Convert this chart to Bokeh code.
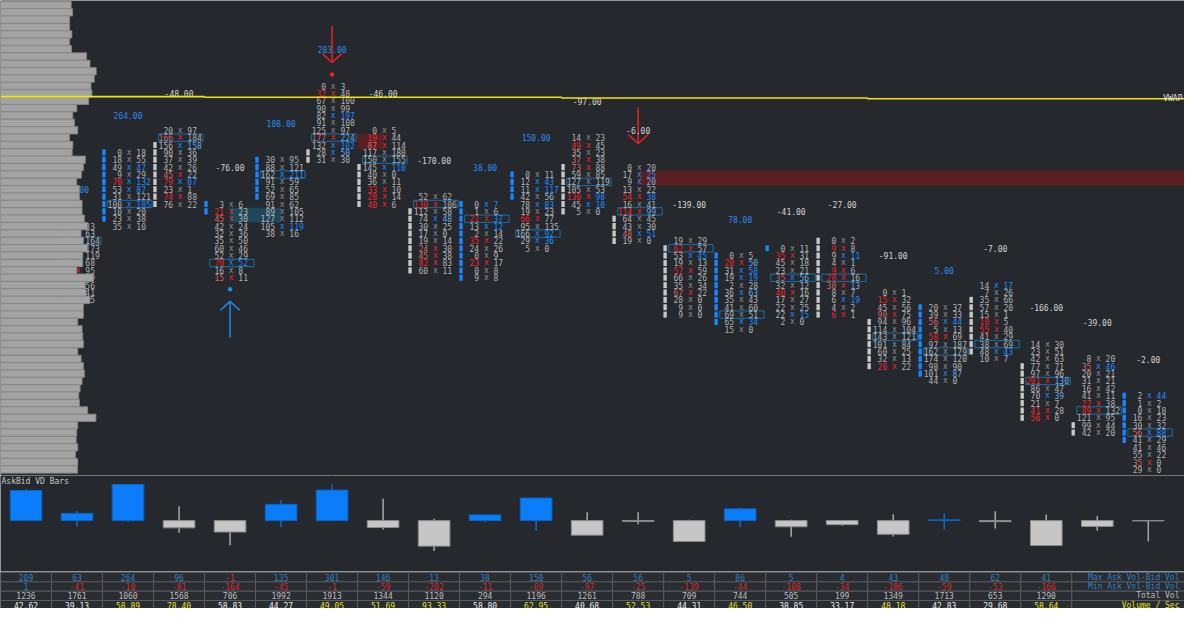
from bokeh.plotting import figure
from bokeh.models import Range1d, ColumnDataSource, Label
from bokeh.layouts import column
from bokeh.embed import file_html
from bokeh.resources import INLINE
from bokeh.core.properties import value

BG = "#25282d"
MONO = "DejaVu Sans Mono"

# ---------------- footprint data (price levels in ticks, rows listed from high to low) ----------------
fp_cols = list(range(1, 23))
fp_top = [41, 51, 54, 44, 50, 60, 54, 45, 44, 48, 53, 49, 39, 37, 38, 39, 32, 30, 33, 25, 23, 18]
fp_bid = [
    [12, 40, 150, 115, 120, 85, 112, 70, 44, 40, 30],
    [0, 18, 49, 9, 70, 53, 31, 100, 10, 23, 35],
    [20, 166, 156, 90, 37, 42, 45, 79, 23, 74, 76],
    [3, 21, 45, 42, 32, 35, 60, 52, 70, 16, 15],
    [30, 88, 162, 91, 52, 69, 91, 89, 127, 105, 38],
    [0, 32, 67, 90, 82, 91, 125, 177, 132, 28, 31],
    [0, 19, 87, 117, 150, 145, 40, 36, 33, 28, 40],
    [52, 130, 112, 74, 30, 17, 19, 24, 45, 82, 60],
    [0, 1, 21, 13, 2, 35, 24, 0, 23, 0, 9],
    [0, 12, 11, 42, 78, 19, 66, 95, 166, 29, 5],
    [14, 49, 35, 37, 73, 59, 127, 105, 130, 45, 5],
    [0, 17, 9, 13, 54, 16, 114, 64, 43, 48, 19],
    [19, 62, 53, 19, 57, 66, 35, 67, 28, 9, 9],
    [0, 20, 31, 19, 2, 36, 35, 41, 69, 65, 15],
    [0, 35, 45, 23, 35, 32, 40, 17, 22, 22, 2],
    [0, 9, 9, 4, 9, 28, 30, 8, 6, 4, 6],
    [0, 15, 45, 90, 94, 114, 143, 101, 60, 32, 26],
    [20, 39, 56, 5, 58, 97, 162, 174, 98, 101, 44],
    [14, 7, 35, 57, 15, 10, 55, 41, 38, 48, 10],
    [14, 23, 42, 77, 97, 201, 86, 70, 21, 41, 56],
    [8, 35, 20, 31, 16, 41, 27, 89, 121, 99, 42],
    [2, 1, 0, 16, 30, 56, 41, 41, 55, 35, 29],
]
fp_ask = [
    [33, 63, 164, 173, 119, 68, 95, 39, 56, 41, 15],
    [18, 55, 47, 29, 132, 87, 121, 105, 20, 38, 10],
    [97, 184, 158, 36, 39, 26, 22, 87, 1, 88, 22],
    [6, 23, 30, 24, 36, 50, 46, 29, 52, 8, 11],
    [95, 121, 211, 59, 65, 85, 62, 105, 112, 119, 16],
    [3, 48, 100, 99, 197, 108, 97, 224, 102, 50, 30],
    [5, 44, 114, 180, 155, 110, 0, 11, 10, 14, 6],
    [62, 106, 58, 48, 25, 0, 14, 30, 38, 83, 11],
    [7, 6, 37, 12, 14, 22, 26, 9, 17, 8, 8],
    [11, 43, 117, 56, 83, 23, 77, 135, 92, 36, 0],
    [23, 45, 23, 38, 88, 85, 119, 53, 98, 10, 0],
    [20, 25, 20, 22, 38, 41, 99, 45, 30, 51, 0],
    [29, 57, 45, 13, 59, 26, 34, 22, 0, 0, 0],
    [5, 50, 58, 19, 28, 63, 43, 60, 51, 34, 0],
    [11, 31, 18, 21, 56, 12, 16, 27, 25, 15, 0],
    [2, 8, 11, 1, 6, 16, 13, 7, 19, 2, 1],
    [1, 32, 56, 75, 96, 104, 121, 84, 25, 13, 22],
    [37, 33, 44, 13, 69, 187, 179, 120, 90, 87, 0],
    [17, 26, 66, 20, 1, 5, 40, 29, 69, 43, 7],
    [30, 51, 63, 71, 96, 130, 47, 39, 7, 28, 0],
    [20, 46, 21, 21, 42, 11, 38, 132, 95, 44, 20],
    [44, 2, 18, 23, 32, 88, 29, 46, 22, 0, 0],
]

# candle open / close (price levels) for bars 2..22
body_cols = list(range(2, 23))
body_open = [42, 52, 43, 45, 51, 49, 43, 34, 45, 49, 42, 38, 28, 38, 39, 28, 21, 31, 22, 14, 12]
body_close = [51, 44, 44, 50, 50, 44, 35, 44, 48, 43, 39, 29, 37, 38, 29, 22, 30, 24, 15, 13, 18]

# signals
sig_cols = [6, 12, 4]
sig_side = ["sell", "sell", "buy"]
sig_dot = [True, False, True]

# imbalance zones (bar index from/to, price levels)
zone_from = [4.0, 6.5, 12.0]
zone_to = [5.0, 7.0, 22.71]
zone_hi = [43, 53, 48]
zone_lo = [42, 52, 47]
zone_kind = ["closed", "open", "open"]

# VWAP per bar
vwap = [58.57, 58.57, 58.57, 58.57, 58.48, 58.48, 58.48, 58.48, 58.48, 58.48, 58.48,
        58.37, 58.37, 58.37, 58.37, 58.37, 58.37, 58.27, 58.27, 58.27, 58.27, 58.27, 58.27]

# left volume profile (from price level 71 downwards)
profile_top_level = 71
profile_vol = [717, 730, 700, 700, 723, 700, 720, 873, 907, 970, 950, 917, 927, 893, 773, 733,
               750, 783, 700, 733, 727, 860, 840, 820, 773, 800, 800, 827, 827, 850, 883, 817,
               840, 883, 833, 833, 773, 940, 860, 867, 907, 840, 840, 783, 827, 833, 840, 783,
               817, 840, 850, 827, 807, 793, 800, 883, 967, 783, 773, 767, 783, 760, 783, 780]

# AskBid VD bars
vd_delta = [200, 48, 264, -48, -76, 108, 203, -46, -170, 38, 150, -97, -6, -139, 78, -41, -27,
            -91, 5, -7, -166, -39, -2]
max_ask_bid = [209, 63, 264, 96, -1, 135, 301, 146, 13, 38, 150, 56, 56, 5, 86, 5, 4, 43, 48, 62, 41]
min_ask_bid = [1, -41, -10, -81, -164, -45, -1, -59, -202, -11, -69, -97, -25, -139, -44, -108,
               -34, -106, -59, -53, -166]
vd_max_extra = [31, 0]
vd_min_extra = [-68, -139]
total_vol = [1236, 1761, 1060, 1568, 706, 1992, 1913, 1344, 1120, 294, 1196, 1261, 788, 709, 744,
             505, 199, 1349, 1713, 653, 1290]
vol_per_sec = [42.62, 39.13, 58.89, 78.40, 58.83, 44.27, 49.05, 51.69, 93.33, 58.80, 62.95, 40.68,
               52.53, 44.31, 46.50, 38.85, 33.17, 48.18, 42.83, 29.68, 58.64]
row_labels = ["Max Ask Vol-Bid Vol", "Min Ask Vol-Bid Vol", "Total Vol", "Volume / Sec"]

# ---------------- styling ----------------
GRAY = "#b2b2b2"
XGRAY = "#8f8f8f"
RED, RED_L = "#f0262b", "#d86868"
BLUE, BLUE_L = "#1f8bff", "#68aae6"
LBL_GRAY = "#d4d4d4"
LBL_BLUE = "#2b8cf2"
FS = value("8px")

W = 1184
H_MAIN, H_VD, H_TBL = 475, 96, 37
xr = Range1d(-0.5, 22.71)


def mkfig(h, yr):
    p = figure(width=W, height=h, x_range=xr, y_range=yr, output_backend="svg",
               toolbar_location=None, tools="", x_axis_location=None, y_axis_location=None,
               min_border=0, min_border_left=0, min_border_right=0, min_border_top=0,
               min_border_bottom=0, background_fill_color=BG, border_fill_color=BG,
               outline_line_color=None)
    p.xgrid.visible = False
    p.ygrid.visible = False
    for g in p.grid:
        g.grid_line_color = None
    return p


main = mkfig(H_MAIN, Range1d(7.18, 71.6))

# zones
zcol = {"closed": "#1e4759", "open": "#5a1f23"}
main.quad(left=zone_from, right=zone_to, bottom=[v - 0.5 for v in zone_lo],
          top=[v + 0.5 for v in zone_hi], fill_color=[zcol[k] for k in zone_kind],
          line_color=None)

bid_d = dict(x=[], y=[], t=[], c=[])
x_d = dict(x=[], y=[], t=[], c=[])
ask_d = dict(x=[], y=[], t=[], c=[])
poc_x, poc_y = [], []
lab_d = dict(x=[], y=[], t=[], c=[])

for ci, col in enumerate(fp_cols):
    bids, asks = fp_bid[ci], fp_ask[ci]
    n = len(bids)
    tot = [b + a for b, a in zip(bids, asks)]
    ip = tot.index(max(tot))
    poc_x.append(col)
    poc_y.append(fp_top[ci] - ip)
    for i in range(n):
        lvl = fp_top[ci] - i
        rb = bids[i] / asks[i - 1] if (i > 0 and asks[i - 1] > 0) else 0
        ra = asks[i] / bids[i + 1] if (i < n - 1 and bids[i + 1] > 0) else 0
        cb = (RED if rb >= 2 else RED_L) if rb >= 1.5 else GRAY
        ca = (BLUE if ra >= 2 else BLUE_L) if ra >= 1.5 else GRAY
        if ra >= 1.5 and ra >= rb:
            cx = BLUE
        elif rb >= 1.5:
            cx = RED
        else:
            cx = XGRAY
        for d, t, c in ((bid_d, str(bids[i]), cb), (x_d, "x", cx), (ask_d, str(asks[i]), ca)):
            d["x"].append(col); d["y"].append(lvl); d["t"].append(t); d["c"].append(c)
    delta = sum(asks) - sum(bids)
    lab_d["x"].append(col)
    lab_d["y"].append(fp_top[ci] + 4.96)
    lab_d["t"].append(f"{delta:.2f}")
    lab_d["c"].append(LBL_BLUE if delta > 0 else LBL_GRAY)

# POC boxes
main.rect(x=[v + 0.035 for v in poc_x], y=poc_y, width=0.87, height=1.0,
          fill_color=None, line_color="#1d6fa6", line_width=1)

# candle bodies
bx, by, bc = [], [], []
for col, o, c in zip(body_cols, body_open, body_close):
    colr = "#1a86ff" if c >= o else "#c8c8c8"
    for lvl in range(min(o, c), max(o, c) + 1):
        bx.append(col - 0.472); by.append(lvl); bc.append(colr)
main.rect(x=bx, y=by, width=0.066, height=0.82, fill_color=bc, line_color=None)

main.text(x="x", y="y", text="t", text_color="c", source=ColumnDataSource(bid_d),
          text_font=value(MONO), text_font_size=FS, text_align="right",
          text_baseline="middle", x_offset=-6)
main.text(x="x", y="y", text="t", text_color="c", source=ColumnDataSource(x_d),
          text_font=value(MONO), text_font_size=FS, text_align="center",
          text_baseline="middle", x_offset=1.2)
main.text(x="x", y="y", text="t", text_color="c", source=ColumnDataSource(ask_d),
          text_font=value(MONO), text_font_size=FS, text_align="left",
          text_baseline="middle", x_offset=8.3)

# signals (arrows + dots)
for col, side, dot in zip(sig_cols, sig_side, sig_dot):
    ci = fp_cols.index(col)
    if side == "sell":
        ref = fp_top[ci]
        s, clr = 1, "#e8241f"
    else:
        ref = fp_top[ci] - (len(fp_bid[ci]) - 1)
        s, clr = -1, "#1f8ae6"
    main.segment(x0=[col], y0=[ref + s * 8.1], x1=[col], y1=[ref + s * 3.2],
                 line_color=clr, line_width=1.5)
    main.line(x=[col - 0.19, col, col + 0.19],
              y=[ref + s * 4.4, ref + s * 3.2, ref + s * 4.4], line_color=clr, line_width=1.5)
    if dot:
        main.scatter(x=[col], y=[ref + s * 1.55], size=4.5, marker="circle",
                     fill_color=clr, line_color=None)

# delta labels
main.text(x="x", y="y", text="t", text_color="c", source=ColumnDataSource(lab_d),
          text_font=value(MONO), text_font_size=FS, text_align="center",
          text_baseline="middle")

# volume profile
main.extra_x_ranges = {"vp": Range1d(0, 12000)}
plev = [profile_top_level - i for i in range(len(profile_vol))]
main.hbar(y=plev, left=0, right=profile_vol, height=1.0, x_range_name="vp",
          fill_color="#a3a3a3", line_color="#858585", line_width=0.8)

# VWAP step line
vx, vy = [], []
for i, v in enumerate(vwap):
    x0 = -0.5 if i == 0 else i - 0.5
    x1 = 22.71 if i == len(vwap) - 1 else i + 0.5
    vx += [x0, x1]
    vy += [v, v]
main.line(x=vx, y=vy, line_color="#f2e600", line_width=1.6)
main.text(x=[22.71], y=[vwap[-1]], text=["VWAP"], text_color="#e6e6e6",
          text_font=value(MONO), text_font_size=FS, text_align="right",
          text_baseline="middle", x_offset=-2)

# ---------------- VD bars ----------------
vd = mkfig(H_VD, Range1d(-338.7, 300.0))
vd_max = max_ask_bid + vd_max_extra
vd_min = min_ask_bid + vd_min_extra
vx_i = list(range(len(vd_delta)))
up = [d > 0 for d in vd_delta]
vd.segment(x0=vx_i, x1=vx_i, y0=vd_min, y1=vd_max,
           line_color=["#1569c8" if u else "#a8a8a8" for u in up], line_width=1.5)
vd.vbar(x=vx_i, width=0.62, bottom=0, top=vd_delta,
        fill_color=["#0b7dfb" if u else "#c6c6c6" for u in up],
        line_color=["#0a63c4" if u else "#8a8a8a" for u in up], line_width=1)
vd.quad(left=-0.5, right=22.71, bottom=241.9, top=300.0, fill_color=BG, line_color=None)
vd.add_layout(Label(x=1, y=90, x_units="screen", y_units="screen", text="AskBid VD Bars",
                    text_font=MONO, text_font_size="8px", text_color="#c8c8c8",
                    text_baseline="middle"))

# ---------------- table ----------------
tb = mkfig(H_TBL, Range1d(-3.353, 0.605))
nc = len(total_vol)
cx, cy = [], []
for r in range(4):
    for i in range(nc):
        cx.append(i); cy.append(-r)
tb.rect(x=cx, y=cy, width=1, height=1, fill_color="#292c31", line_color="#575b62", line_width=1)
tb.rect(x=[21.605] * 4, y=[0, -1, -2, -3], width=2.21, height=1, fill_color="#292c31",
        line_color="#575b62", line_width=1)

t_d = dict(x=[], y=[], t=[], c=[])
for i in range(nc):
    for r, v, txt in ((0, max_ask_bid[i], str(max_ask_bid[i])),
                      (1, min_ask_bid[i], str(min_ask_bid[i]))):
        t_d["x"].append(i); t_d["y"].append(-r); t_d["t"].append(txt)
        t_d["c"].append("#2f80c4" if v > 0 else "#d92b2b")
    t_d["x"].append(i); t_d["y"].append(-2); t_d["t"].append(str(total_vol[i]))
    t_d["c"].append("#bdbdbd")
    t_d["x"].append(i); t_d["y"].append(-3); t_d["t"].append(f"{vol_per_sec[i]:.2f}")
    t_d["c"].append("#e2e21a" if (i > 0 and vol_per_sec[i] > vol_per_sec[i - 1]) else "#ececec")
tb.text(x="x", y="y", text="t", text_color="c", source=ColumnDataSource(t_d),
        text_font=value(MONO), text_font_size=FS, text_align="center", text_baseline="middle")
tb.text(x=[22.71] * 4, y=[0, -1, -2, -3], text=row_labels,
        text_color=["#2f80c4", "#2f80c4", "#bdbdbd", "#e2e21a"],
        text_font=value(MONO), text_font_size=FS, text_align="right", text_baseline="middle",
        x_offset=-5)

layout = column(main, vd, tb, spacing=0)
open("out.html", "w").write(file_html(layout, INLINE))
